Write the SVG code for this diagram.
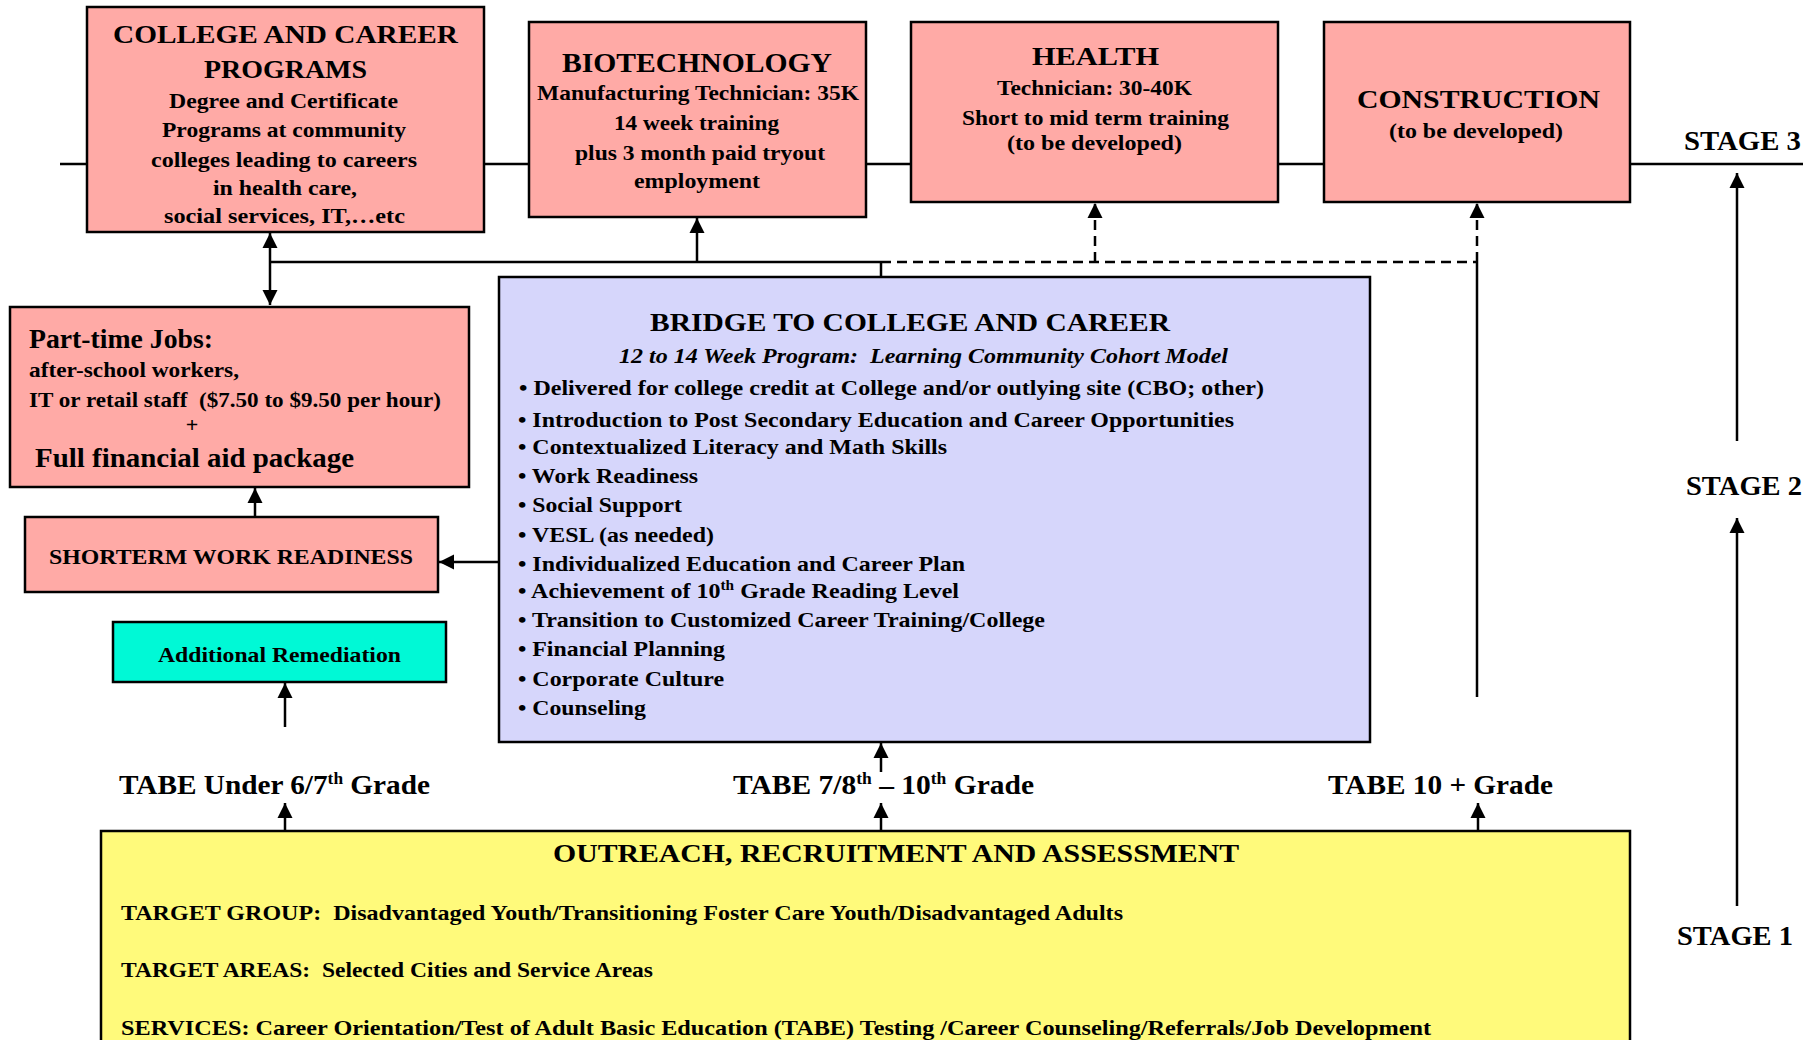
<svg xmlns="http://www.w3.org/2000/svg" width="1820" height="1040" viewBox="0 0 1820 1040">
<style>
text{font-family:"Liberation Serif","Times New Roman",serif;font-weight:bold;fill:#000}
.box{stroke:#000;stroke-width:2.5}
.pink{fill:#FFAAA6}
.lav{fill:#D6D6FB}
.yel{fill:#FFFA7B}
.cyan{fill:#00F9D6}
.ln{stroke:#000;stroke-width:2.5;fill:none}
.dash{stroke:#000;stroke-width:2.5;fill:none;stroke-dasharray:10 6}
.arr{marker-end:url(#ah)}
.t26{font-size:26px}
.t22{font-size:22px}
.t21{font-size:21px}
.pre{white-space:pre}
</style>
<defs>
<marker id="ah" markerUnits="userSpaceOnUse" markerWidth="16" markerHeight="16" viewBox="0 0 16 16" refX="15" refY="8" orient="auto-start-reverse">
<path d="M0,0.5 L15,8 L0,15.5 z" fill="#000"/>
</marker>
</defs>
<rect width="1820" height="1040" fill="#fff"/>

<g id="connectors">
<line class="ln" x1="60" y1="164" x2="1803" y2="164" stroke="#222"/>
<line class="ln" x1="270" y1="233" x2="270" y2="305" marker-start="url(#ah)" marker-end="url(#ah)"/>
<line class="ln" x1="270" y1="262" x2="881" y2="262"/>
<line class="ln arr" x1="697" y1="262" x2="697" y2="218"/>
<line class="ln" x1="881" y1="262" x2="881" y2="278"/>
<line class="dash" x1="881" y1="262" x2="1477" y2="262"/>
<line class="dash arr" x1="1095" y1="262" x2="1095" y2="203"/>
<line class="dash arr" x1="1477" y1="262" x2="1477" y2="203"/>
<line class="ln" x1="1477" y1="262" x2="1477" y2="697"/>
<line class="ln arr" x1="1737" y1="441" x2="1737" y2="173" stroke-width="3"/>
<line class="ln arr" x1="1737" y1="906" x2="1737" y2="518" stroke-width="3"/>
<line class="ln arr" x1="255" y1="517" x2="255" y2="488"/>
<line class="ln arr" x1="499" y1="562" x2="439" y2="562"/>
<line class="ln arr" x1="285" y1="727" x2="285" y2="683"/>
<line class="ln arr" x1="285" y1="831" x2="285" y2="803"/>
<line class="ln arr" x1="881" y1="831" x2="881" y2="803"/>
<line class="ln arr" x1="881" y1="772" x2="881" y2="743"/>
<line class="ln arr" x1="1478" y1="831" x2="1478" y2="803"/>
</g>

<g id="college">
<rect class="box pink" x="87" y="7" width="397" height="225"/>
<text class="t26" x="113" y="43" textLength="345" lengthAdjust="spacingAndGlyphs">COLLEGE AND CAREER</text>
<text class="t26" x="204" y="78" textLength="163" lengthAdjust="spacingAndGlyphs">PROGRAMS</text>
<text class="t22" x="169" y="108" textLength="229" lengthAdjust="spacingAndGlyphs">Degree and Certificate</text>
<text class="t22" x="162" y="137" textLength="244" lengthAdjust="spacingAndGlyphs">Programs at community</text>
<text class="t22" x="151" y="167" textLength="266" lengthAdjust="spacingAndGlyphs">colleges leading to careers</text>
<text class="t22" x="213" y="195" textLength="144" lengthAdjust="spacingAndGlyphs">in health care,</text>
<text class="t22" x="164" y="223" textLength="241" lengthAdjust="spacingAndGlyphs">social services, IT,…etc</text>
</g>

<g id="biotech">
<rect class="box pink" x="529" y="22" width="337" height="195"/>
<text style="font-size:27px" x="562" y="72" textLength="270" lengthAdjust="spacingAndGlyphs">BIOTECHNOLOGY</text>
<text class="t21" x="537" y="100" textLength="322" lengthAdjust="spacingAndGlyphs">Manufacturing Technician: 35K</text>
<text class="t21" x="614" y="130" textLength="165" lengthAdjust="spacingAndGlyphs">14 week training</text>
<text class="t21" x="575" y="160" textLength="250" lengthAdjust="spacingAndGlyphs">plus 3 month paid tryout</text>
<text class="t21" x="634" y="188" textLength="126" lengthAdjust="spacingAndGlyphs">employment</text>
</g>

<g id="health">
<rect class="box pink" x="911" y="22" width="367" height="180"/>
<text class="t26" x="1032" y="65" textLength="127" lengthAdjust="spacingAndGlyphs">HEALTH</text>
<text class="t21" x="997" y="95" textLength="195" lengthAdjust="spacingAndGlyphs">Technician: 30-40K</text>
<text class="t21" x="962" y="125" textLength="267" lengthAdjust="spacingAndGlyphs">Short to mid term training</text>
<text class="t21" x="1007" y="150" textLength="175" lengthAdjust="spacingAndGlyphs">(to be developed)</text>
</g>

<g id="construction">
<rect class="box pink" x="1324" y="22" width="306" height="180"/>
<text class="t26" x="1357" y="108" textLength="243" lengthAdjust="spacingAndGlyphs">CONSTRUCTION</text>
<text class="t21" x="1389" y="138" textLength="174" lengthAdjust="spacingAndGlyphs">(to be developed)</text>
</g>

<g id="stages">
<text style="font-size:28px" x="1684" y="150" textLength="117" lengthAdjust="spacingAndGlyphs">STAGE 3</text>
<text style="font-size:28px" x="1686" y="495" textLength="116" lengthAdjust="spacingAndGlyphs">STAGE 2</text>
<text style="font-size:28px" x="1677" y="945" textLength="116" lengthAdjust="spacingAndGlyphs">STAGE 1</text>
</g>

<g id="parttime">
<rect class="box pink" x="10" y="307" width="459" height="180"/>
<text style="font-size:27px" x="29" y="348" textLength="184" lengthAdjust="spacingAndGlyphs">Part-time Jobs:</text>
<text class="t21" x="29" y="377" textLength="210" lengthAdjust="spacingAndGlyphs">after-school workers,</text>
<text class="t21 pre" x="29" y="407" textLength="412" lengthAdjust="spacingAndGlyphs">IT or retail staff  ($7.50 to $9.50 per hour)</text>
<text class="t22" x="192" y="432" text-anchor="middle">+</text>
<text style="font-size:27px" x="35" y="467" textLength="319" lengthAdjust="spacingAndGlyphs">Full financial aid package</text>
</g>

<g id="shortterm">
<rect class="box pink" x="25" y="517" width="413" height="75"/>
<text class="t22" x="49" y="564" textLength="364" lengthAdjust="spacingAndGlyphs">SHORTERM WORK READINESS</text>
</g>

<g id="remediation">
<rect class="box cyan" x="113" y="622" width="333" height="60"/>
<text class="t21" x="158" y="662" textLength="243" lengthAdjust="spacingAndGlyphs">Additional Remediation</text>
</g>

<g id="bridge">
<rect class="box lav" x="499" y="277" width="871" height="465"/>
<text style="font-size:25px" x="650" y="331" textLength="520" lengthAdjust="spacingAndGlyphs">BRIDGE TO COLLEGE AND CAREER</text>
<text class="t22 pre" style="font-style:italic" x="619" y="363" textLength="609" lengthAdjust="spacingAndGlyphs">12 to 14 Week Program:  Learning Community Cohort Model</text>
<text class="t22" x="519" y="395" textLength="745" lengthAdjust="spacingAndGlyphs">• Delivered for college credit at College and/or outlying site (CBO; other)</text>
<text class="t22" x="518" y="427" textLength="716" lengthAdjust="spacingAndGlyphs">• Introduction to Post Secondary Education and Career Opportunities</text>
<text class="t22" x="518" y="454" textLength="429" lengthAdjust="spacingAndGlyphs">• Contextualized Literacy and Math Skills</text>
<text class="t22" x="518" y="483" textLength="180" lengthAdjust="spacingAndGlyphs">• Work Readiness</text>
<text class="t22" x="518" y="512" textLength="164" lengthAdjust="spacingAndGlyphs">• Social Support</text>
<text class="t22" x="518" y="542" textLength="196" lengthAdjust="spacingAndGlyphs">• VESL (as needed)</text>
<text class="t22" x="518" y="571" textLength="447" lengthAdjust="spacingAndGlyphs">• Individualized Education and Career Plan</text>
<text class="t22" x="518" y="598" textLength="441" lengthAdjust="spacingAndGlyphs">• Achievement of 10<tspan font-size="14" dy="-8">th</tspan><tspan dy="8"> Grade Reading Level</tspan></text>
<text class="t22" x="518" y="627" textLength="527" lengthAdjust="spacingAndGlyphs">• Transition to Customized Career Training/College</text>
<text class="t22" x="518" y="656" textLength="207" lengthAdjust="spacingAndGlyphs">• Financial Planning</text>
<text class="t22" x="518" y="686" textLength="206" lengthAdjust="spacingAndGlyphs">• Corporate Culture</text>
<text class="t22" x="518" y="715" textLength="128" lengthAdjust="spacingAndGlyphs">• Counseling</text>
</g>

<g id="tabe-labels">
<text style="font-size:27px" x="119" y="794" textLength="311" lengthAdjust="spacingAndGlyphs">TABE Under 6/7<tspan font-size="16" dy="-10">th</tspan><tspan dy="10"> Grade</tspan></text>
<text style="font-size:27px" x="733" y="794" textLength="301" lengthAdjust="spacingAndGlyphs">TABE 7/8<tspan font-size="16" dy="-10">th</tspan><tspan dy="10"> – 10</tspan><tspan font-size="16" dy="-10">th</tspan><tspan dy="10"> Grade</tspan></text>
<text style="font-size:27px" x="1328" y="794" textLength="225" lengthAdjust="spacingAndGlyphs">TABE 10 + Grade</text>
</g>

<g id="outreach">
<rect class="box yel" x="101" y="831" width="1529" height="225"/>
<text class="t26" x="553" y="862" textLength="686" lengthAdjust="spacingAndGlyphs">OUTREACH, RECRUITMENT AND ASSESSMENT</text>
<text class="t21 pre" x="121" y="920" textLength="1002" lengthAdjust="spacingAndGlyphs">TARGET GROUP:  Disadvantaged Youth/Transitioning Foster Care Youth/Disadvantaged Adults</text>
<text class="t21 pre" x="121" y="977" textLength="532" lengthAdjust="spacingAndGlyphs">TARGET AREAS:  Selected Cities and Service Areas</text>
<text class="t21" x="121" y="1035" textLength="1310" lengthAdjust="spacingAndGlyphs">SERVICES: Career Orientation/Test of Adult Basic Education (TABE) Testing /Career Counseling/Referrals/Job Development</text>
</g>
</svg>
